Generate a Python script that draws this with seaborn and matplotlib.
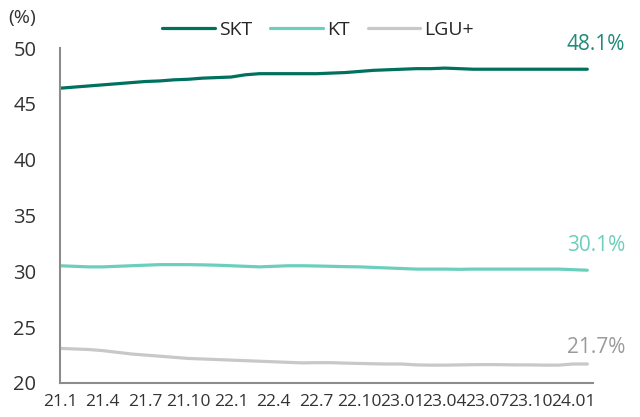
import numpy as np
import pandas as pd
import matplotlib
matplotlib.use("Agg")
import matplotlib.pyplot as plt
import seaborn as sns

months = [f"{y}.{m:02d}" for y in (21, 22, 23, 24) for m in range(1, 13)][:38]
tick_labels = ["21.1", "21.4", "21.7", "21.10", "22.1", "22.4", "22.7", "22.10",
               "23.01", "23.04", "23.07", "23.10", "24.01"]

skt = [46.4, 46.5, 46.6, 46.7, 46.8, 46.9, 47.0, 47.05, 47.15, 47.2, 47.3, 47.35,
       47.4, 47.6, 47.7, 47.7, 47.7, 47.7, 47.7, 47.75, 47.8, 47.9, 48.0, 48.05,
       48.1, 48.15, 48.15, 48.2, 48.15, 48.1, 48.1, 48.1, 48.1, 48.1, 48.1, 48.1,
       48.1, 48.1]
kt = [30.5, 30.45, 30.4, 30.4, 30.45, 30.5, 30.55, 30.6, 30.6, 30.6, 30.58, 30.55,
      30.5, 30.45, 30.4, 30.45, 30.5, 30.5, 30.48, 30.45, 30.42, 30.4, 30.35, 30.3,
      30.25, 30.2, 30.2, 30.2, 30.18, 30.2, 30.2, 30.2, 30.2, 30.2, 30.2, 30.2,
      30.15, 30.1]
lgu = [23.1, 23.05, 23.0, 22.9, 22.75, 22.6, 22.5, 22.4, 22.3, 22.2, 22.15, 22.1,
       22.05, 22.0, 21.95, 21.9, 21.85, 21.8, 21.82, 21.82, 21.78, 21.75, 21.72, 21.7,
       21.7, 21.62, 21.6, 21.6, 21.62, 21.64, 21.65, 21.64, 21.62, 21.62, 21.6, 21.6,
       21.7, 21.7]
series = {"SKT": skt, "KT": kt, "LGU+": lgu}
end_labels = {"SKT": "48.1%", "KT": "30.1%", "LGU+": "21.7%"}
colors = {"SKT": "#00705f", "KT": "#6ccfbd", "LGU+": "#c8c8c8"}
label_colors = {"SKT": "#1f8a78", "KT": "#6ccfbd", "LGU+": "#9a9a9a"}

df = pd.concat([pd.DataFrame({"idx": np.arange(len(v)), "month": months, "value": v, "carrier": k})
                for k, v in series.items()], ignore_index=True)

sns.set_style("white")
plt.rcParams["font.family"] = ["Open Sans", "DejaVu Sans"]

fig = plt.figure(figsize=(6.4, 4.17), dpi=100)
ax = fig.add_axes([60/640, 1-383/417, 533/640, (383-48)/417])
sns.lineplot(data=df, x="idx", y="value", hue="carrier", palette=colors,
             linewidth=2.3, ax=ax, legend=True)

ax.set_xlim(0, len(months) - 1 + 0.4)
ax.set_ylim(20, 50)
ax.set_yticks(np.arange(20, 51, 5))
ax.set_xticks(np.arange(0, len(months), 3))
ax.set_xticklabels(tick_labels)
ax.set_xlabel("")
ax.set_ylabel("")
for s in ["top", "right"]:
    ax.spines[s].set_visible(False)
for s in ["left", "bottom"]:
    ax.spines[s].set_color("#8c8c8c")
    ax.spines[s].set_linewidth(1.5)
ax.tick_params(axis="both", which="both", direction="out", length=5, width=1.5,
               color="#8c8c8c", labelcolor="#333333")
ax.tick_params(axis="x", pad=3, labelsize=12.5)
ax.tick_params(axis="y", pad=12, labelsize=14.5)

fig.text(8/640, 1-18/417, "(%)", fontsize=14, color="#333333", ha="left", va="center")

last = len(months) - 1
offsets = {"SKT": 2.2, "KT": 2.25, "LGU+": 1.5}
for k, v in series.items():
    ax.text(last + 0.6, v[-1] + offsets[k], end_labels[k], color=label_colors[k],
            fontsize=15, ha="center", va="center", clip_on=False)

handles, labels = ax.get_legend_handles_labels()
ax.legend(handles, labels, loc="center", bbox_to_anchor=((318 - 60) / 533, 1.0 + 18/335), ncol=3,
          frameon=False, fontsize=14, handlelength=2.7, columnspacing=0.95,
          handletextpad=0.2, borderaxespad=0.0)

fig.savefig("out.png", dpi=100)
